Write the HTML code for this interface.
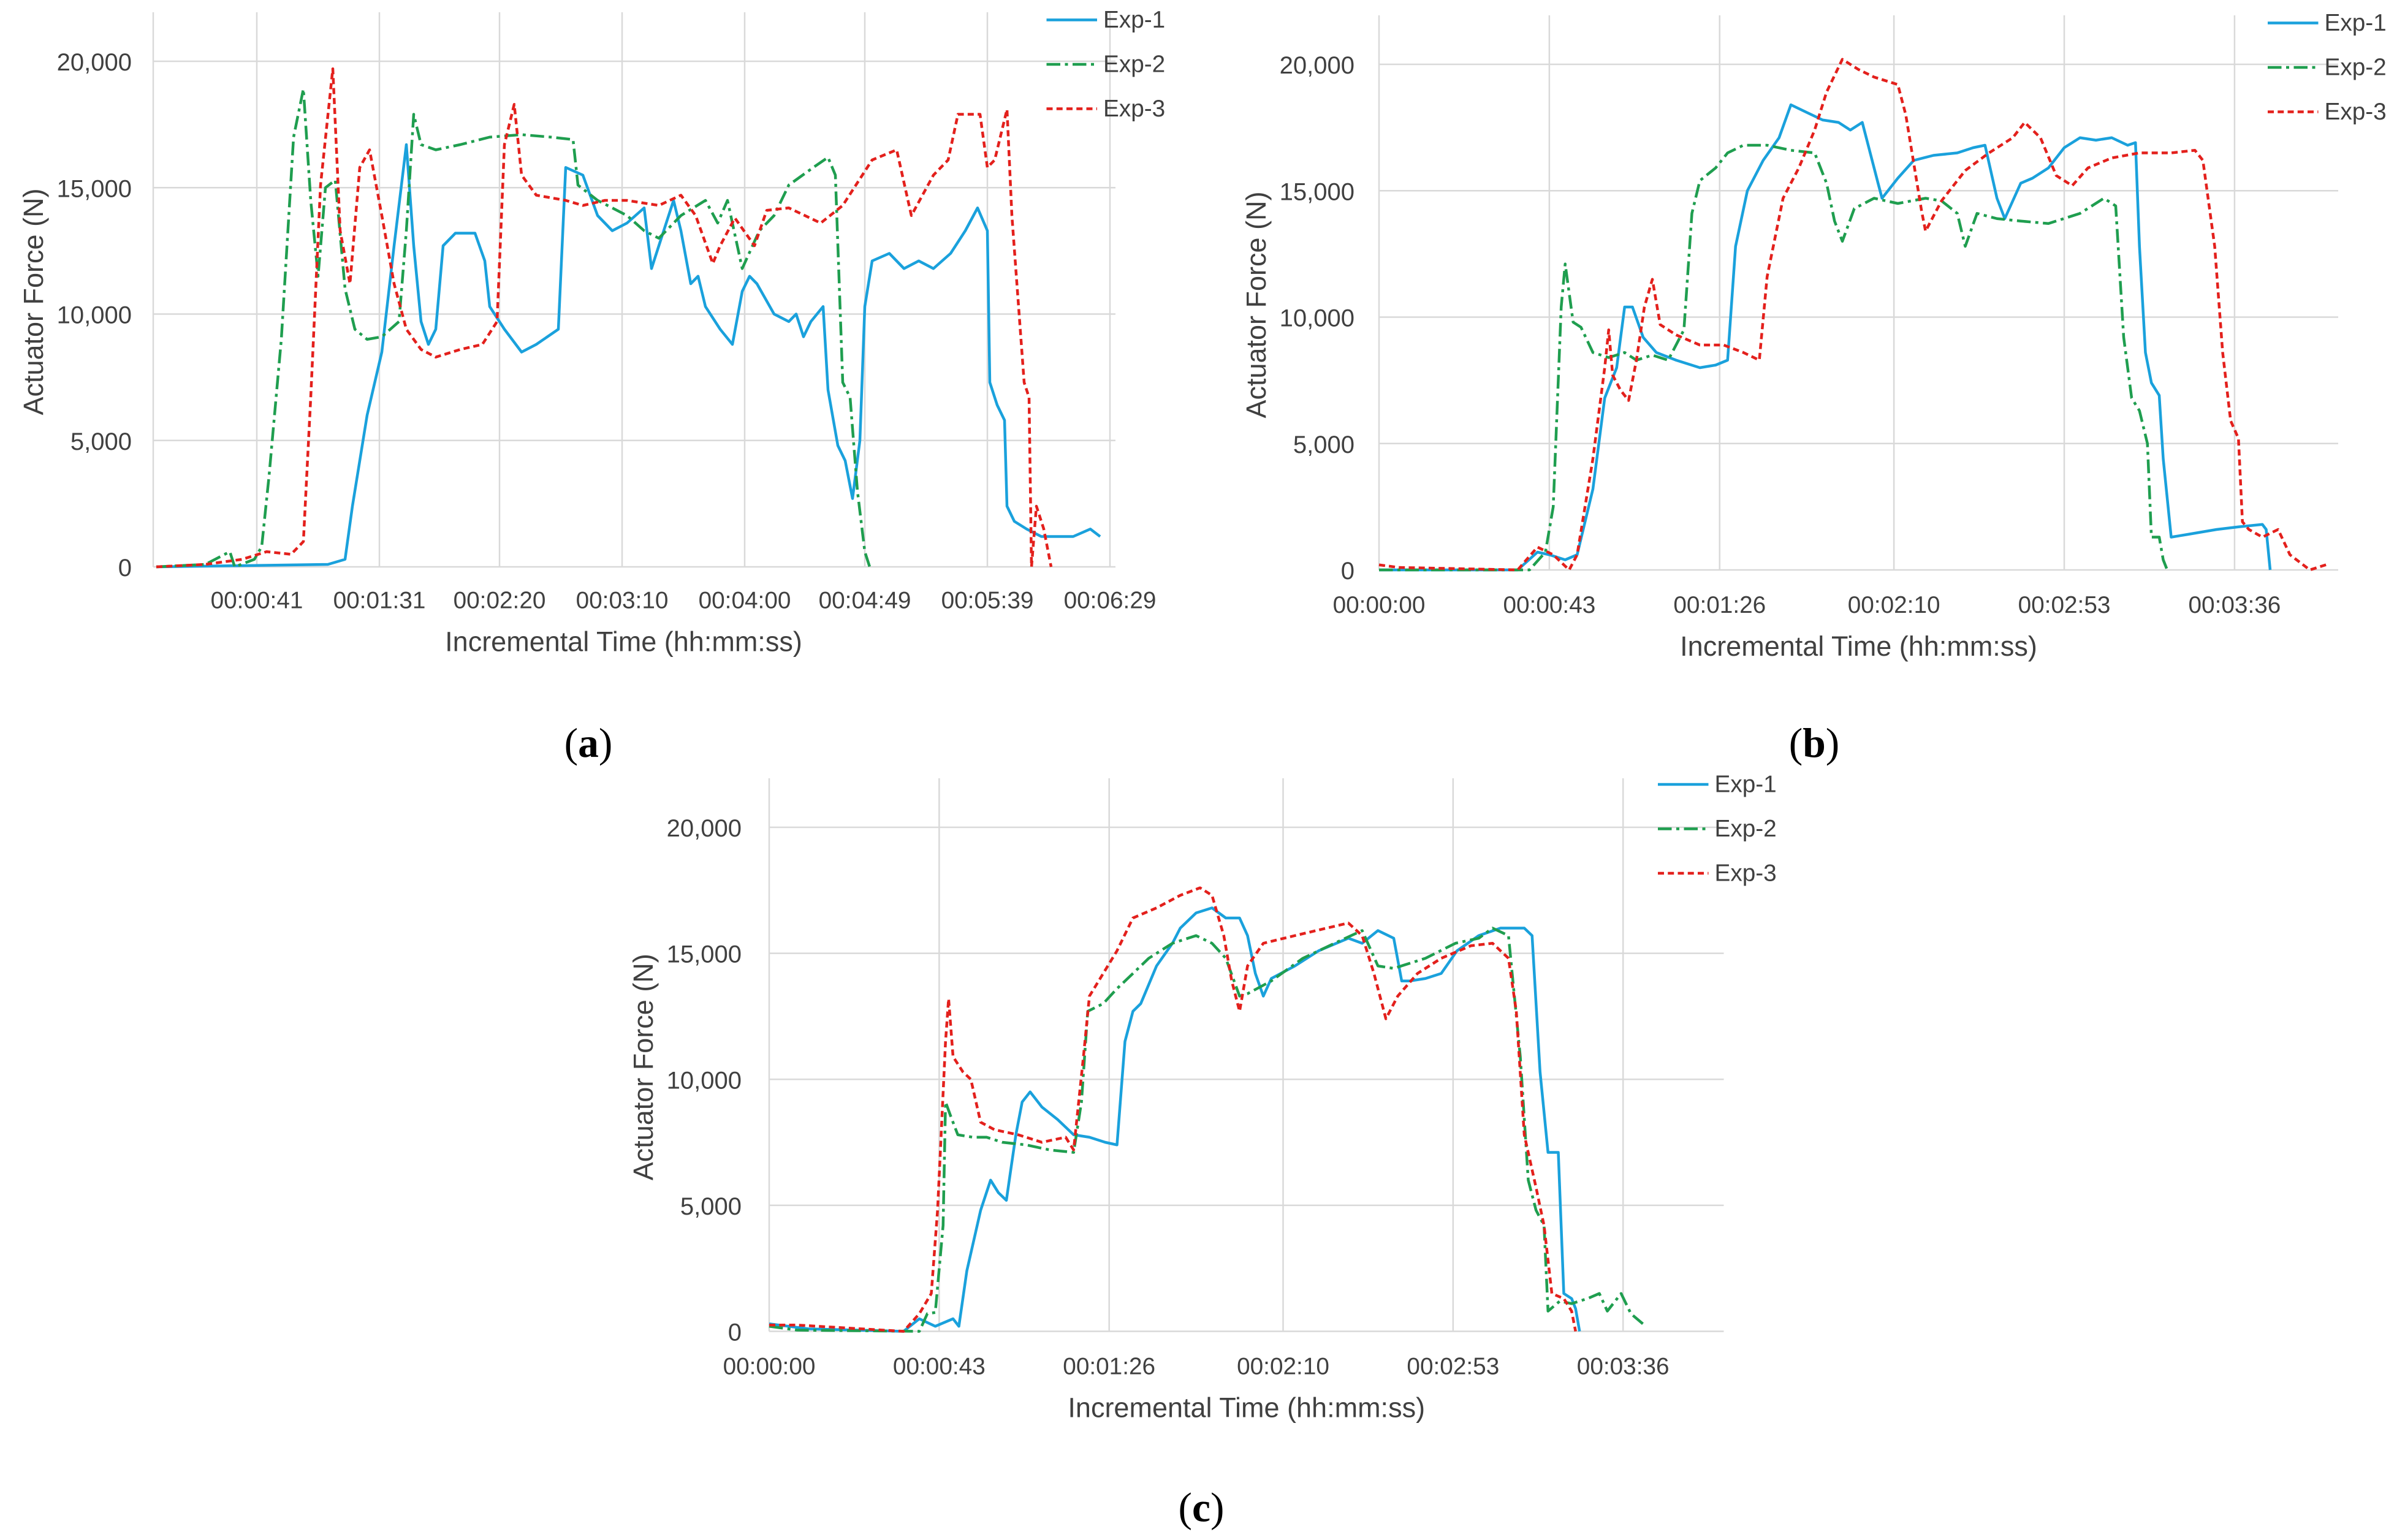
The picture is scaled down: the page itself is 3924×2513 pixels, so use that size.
<!DOCTYPE html>
<html>
<head>
<meta charset="utf-8">
<style>
html,body{margin:0;padding:0;background:#fff;}
svg{display:block;}
text{font-family:"Liberation Sans",sans-serif;fill:#404040;}
</style>
</head>
<body>
<svg id="fig" width="3924" height="2513" viewBox="0 0 1569.6 1005.2" xmlns="http://www.w3.org/2000/svg">
<rect x="0" y="0" width="1569.6" height="1005.2" fill="#fff"/>
</svg>
<script>
// ---- Data (time in seconds, force in N) ----
const yTicks = [0, 5000, 10000, 15000, 20000];
const yTickLabels = ["0", "5,000", "10,000", "15,000", "20,000"];
const seriesNames = ["Exp-1", "Exp-2", "Exp-3"];

const aTickSec = [41, 91, 140, 190, 240, 289, 339, 389];
const aTickLabels = ["00:00:41","00:01:31","00:02:20","00:03:10","00:04:00","00:04:49","00:05:39","00:06:29"];
const bcTickSec = [0, 43, 86, 130, 173, 216];
const bcTickLabels = ["00:00:00","00:00:43","00:01:26","00:02:10","00:02:53","00:03:36"];

const aExp1T = [0,70,77,80,86,92,97,102,105,108,111,114,117,122,130,134,136,142,149,155,164,167,174,180,186,192,199,202,205,211,214,218,221,224,230,235,239,242,245,252,258,261,264,267,272,274,278,281,284,287,289,292,299,305,311,317,324,330,335,339,340,343,346,347,350,355,361,374,381,385];
const aExp1F = [0,100,300,2400,6000,8500,12700,16700,12700,9700,8800,9400,12700,13200,13200,12100,10300,9400,8500,8800,9400,15800,15500,13900,13300,13600,14200,11800,12700,14500,13300,11200,11500,10300,9400,8800,10900,11500,11200,10000,9700,10000,9100,9700,10300,7000,4800,4200,2700,5000,10300,12100,12400,11800,12100,11800,12400,13300,14200,13300,7300,6400,5800,2400,1800,1500,1200,1200,1500,1200];
const aExp2T = [0,20,30,32,40,43,46,51,56,60,63,66,69,73,77,81,86,92,99,102,105,108,114,124,136,149,161,170,172,180,186,192,199,205,214,224,229,233,239,246,252,258,268,274,277,280,283,286,289,291];
const aExp2F = [0,100,600,0,300,800,3600,9000,17000,18900,14500,11500,15000,15300,11000,9400,9000,9100,9700,13300,17900,16700,16500,16700,17000,17100,17000,16900,15100,14500,14200,13900,13300,13000,13900,14500,13600,14500,11800,13300,13900,15100,15800,16200,15500,7300,6700,3000,600,0];
const aExp3T = [0,20,35,45,55,60,63,67,72,75,79,83,87,92,97,102,108,114,124,133,139,142,146,149,155,167,174,183,192,205,214,220,227,230,236,244,249,258,271,280,292,302,308,317,323,327,336,339,342,347,349,354,356,357,359,362,365];
const aExp3F = [0,100,300,600,500,1000,6700,15100,19700,13300,11200,15800,16500,13900,11200,9400,8600,8300,8600,8800,9700,16700,18300,15500,14700,14500,14300,14500,14500,14300,14700,13900,12000,12700,13800,12700,14100,14200,13600,14300,16100,16500,13900,15500,16100,17900,17900,15800,16100,18100,13900,7300,6700,0,2400,1500,0];

const bExp1T = [0,35,40,43,47,50,54,57,60,62,64,66.7,70,75,81,85,88,90,93,97,101,104,108,112,116,119,122,126,127,131,135,140,146,150,153,156,158,162,165,169,173,177,181,185,189,191,192,193.5,195,197,198,200,204,211.5,217,223,224,225];
const bExp1F = [0,0,700,600,400,600,3200,6800,8000,10400,10400,9200,8600,8300,8000,8100,8300,12800,15000,16200,17100,18400,18100,17800,17700,17400,17700,15300,14700,15500,16200,16400,16500,16700,16800,14700,13900,15300,15500,15900,16700,17100,17000,17100,16800,16900,12800,8600,7400,6900,4400,1300,1400,1600,1700,1800,1600,0];
const bExp2T = [0,38,42,44,46,47,49,51,54,58,62,65,69,73,77,79,81,85,88,92,98,104,110,113,115,117,120,125,131,138,142,146,148,151,156,162,169,177,183,186,188,190,192,194,195,197,198,199];
const bExp2F = [0,0,700,2500,10400,12100,9800,9600,8600,8400,8600,8300,8500,8300,9500,14100,15400,15900,16500,16800,16800,16600,16500,15300,13800,13000,14300,14700,14500,14700,14600,14100,12800,14100,13900,13800,13700,14100,14700,14400,9200,6800,6300,5000,1300,1300,400,0];
const bExp3T = [0,5,35,40,44,48,50,54,57,58,59,61,63,65,67,69,71,75,81,87,92,96,98,102,106,110,113,117,121,125,131,133,137,138,142,148,154,160,163,167,171,175,179,185,192,200,206,208,211,213,215,217,218,219.6,223,227,230,235,240];
const bExp3F = [200,100,0,900,600,0,600,4400,8000,9500,7700,7100,6700,8300,10400,11500,9700,9300,8900,8900,8600,8300,11600,14700,15900,17400,18900,20200,19800,19500,19200,18000,14200,13400,14600,15800,16500,17100,17700,17100,15600,15200,15900,16300,16500,16500,16600,16200,12800,8600,5900,5200,1900,1600,1300,1600,600,0,250];

const cExp1T = [0,10,34,38,42,46.5,48,50,53.5,56,58,60,61,62.4,64,66,69,73,77,81,85,88,90,92,94,98,102,104,108,112,115.5,119,121,123,125,127,133,139,146.5,150,154,158,160,162,166,170,174,179.5,185,191,193,195,197,199.6,201,203,204,205];
const cExp1F = [300,100,0,500,200,500,200,2400,4800,6000,5500,5200,6300,7800,9100,9500,8900,8400,7800,7700,7500,7400,11500,12700,13000,14500,15400,16000,16600,16800,16400,16400,15700,14200,13300,14000,14500,15100,15600,15400,15900,15600,13900,13900,14000,14200,15100,15700,16000,16000,15700,10300,7100,7100,1500,1300,900,0];
const cExp2T = [0,7,38,40,42,44,44.6,46,47.7,51.5,55,59,65,71,77,79,80.6,84.5,88,92,96,102,108,112,115.5,119,121,127,135,143,150,154,158,166,173.6,179.5,183,187,190,192,194,196,197,200,203,207,210,212,215.5,218,221];
const cExp2F = [200,50,0,700,750,4200,9100,8500,7800,7700,7700,7500,7400,7200,7100,9100,12700,13000,13600,14200,14800,15400,15700,15400,14800,13300,13400,13900,14800,15400,15900,14500,14400,14800,15400,15600,16000,15700,10900,6000,4800,4200,800,1200,1100,1300,1500,800,1500,700,300];
const cExp3T = [0,7,34,38,41,42.6,44.6,45.4,46.5,49,51,53.5,57,63,69,75,77,79.5,81,84.5,88,92,98,104,109,112,115,117,119,121,125,133,141,146.5,150,153,156,159,164,170,177.5,183,187,189,191,194,196,198,201,203,204];
const cExp3F = [250,250,0,700,1500,4800,11500,13200,10900,10300,10000,8300,8000,7800,7500,7700,7200,10900,13300,14200,15100,16400,16800,17300,17600,17300,15700,13900,12700,14500,15400,15700,16000,16200,15700,14200,12400,13300,14200,14800,15300,15400,14800,12700,7800,5700,4200,1500,1300,800,0];

// ---- Rendering ----
const NS = "http://www.w3.org/2000/svg";
const svg = document.getElementById("fig");
const colors = ["#1aa1dc", "#1f9e4f", "#e3201c"];
const dashes = [null, "9,3,2,3", "4,2.5"];

function mk(tag, attrs, parent) {
  const e = document.createElementNS(NS, tag);
  for (const k in attrs) e.setAttribute(k, attrs[k]);
  (parent || svg).appendChild(e);
  return e;
}

const panels = [
  {id:"a", left:100, right:728, top:8, x0:102, pxs:1.6, yZero:370, yTop:40,
   ticks:aTickSec, labels:aTickLabels, tickY:397, titleY:425, yTitleX:22, yLabX:86,
   legX:683, legY:13, capX:384, capY:494,
   series:[[aExp1T,aExp1F],[aExp2T,aExp2F],[aExp3T,aExp3F]]},
  {id:"b", left:900, right:1526, top:10, x0:900, pxs:2.585, yZero:372, yTop:42,
   ticks:bcTickSec, labels:bcTickLabels, tickY:400, titleY:428, yTitleX:820, yLabX:884,
   legX:1480, legY:15, capX:1184, capY:494,
   series:[[bExp1T,bExp1F],[bExp2T,bExp2F],[bExp3T,bExp3F]]},
  {id:"c", left:502, right:1125, top:508, x0:502, pxs:2.58, yZero:869, yTop:540,
   ticks:bcTickSec, labels:bcTickLabels, tickY:897, titleY:925, yTitleX:420, yLabX:484,
   legX:1082, legY:512, capX:784, capY:993,
   series:[[cExp1T,cExp1F],[cExp2T,cExp2F],[cExp3T,cExp3F]]}
];

panels.forEach(p => {
  const g = mk("g", {});
  
  
  const xS = t => p.x0 + t * p.pxs;
  const yS = f => p.yZero - f * (p.yZero - p.yTop) / 20000;

  // horizontal gridlines & y labels
  yTicks.forEach((v, i) => {
    const gl = mk("line", {x1:p.left, x2:p.right, y1:yS(v), y2:yS(v), stroke:"#d9d9d9", "stroke-width":1}, g);
    
    
    const tx = mk("text", {x:p.yLabX, y:yS(v)+6, "text-anchor":"end", "font-size":16}, g);
    tx.textContent = yTickLabels[i];
    
    
  });
  // left axis line
  const la = mk("line", {x1:p.left, x2:p.left, y1:p.top, y2:p.yZero, stroke:"#d9d9d9", "stroke-width":1}, g);
  
  
  // vertical gridlines & x labels
  p.ticks.forEach((t, i) => {
    const x = xS(t);
    if (t > 0) {
      const vl = mk("line", {x1:x, x2:x, y1:p.top, y2:p.yZero, stroke:"#d9d9d9", "stroke-width":1}, g);
      
      
    }
    const tx = mk("text", {x:x, y:p.tickY, "text-anchor":"middle", "font-size":15.5}, g);
    tx.textContent = p.labels[i];
    
    
  });
  // x axis title
  const xt = mk("text", {x:(p.left+p.right)/2 + (p.id==="a"?-7:0), y:p.titleY, "text-anchor":"middle", "font-size":18}, g);
  xt.textContent = "Incremental Time (hh:mm:ss)";
  
  
  // y axis title
  const cy = (p.top + p.yZero) / 2 + 8;
  const yt = mk("text", {x:p.yTitleX, y:cy, "text-anchor":"middle", "font-size":18, transform:`rotate(-90 ${p.yTitleX} ${cy}) translate(0 6)`}, g);
  yt.textContent = "Actuator Force (N)";
  
  

  // series
  p.series.forEach((s, si) => {
    const pts = s[0].map((t, k) => xS(t).toFixed(1) + "," + yS(s[1][k]).toFixed(1)).join(" ");
    const attrs = {points:pts, fill:"none", stroke:colors[si], "stroke-width":1.8, "stroke-linejoin":"round"};
    if (dashes[si]) attrs["stroke-dasharray"] = dashes[si];
    const pl = mk("polyline", attrs, g);
    
    
  });

  // legend
  seriesNames.forEach((n, si) => {
    const ly = p.legY + si * 29;
    const la2 = {x1:p.legX, x2:p.legX+33, y1:ly, y2:ly, stroke:colors[si], "stroke-width":1.8};
    if (dashes[si]) la2["stroke-dasharray"] = dashes[si];
    const ll = mk("line", la2, g);
    
    
    const lt = mk("text", {x:p.legX+37, y:ly+5, "font-size":15.5}, g);
    lt.textContent = n;
    
    
  });

  // caption
  const cap = mk("text", {x:p.capX, y:p.capY, "text-anchor":"middle", "font-size":27, style:"font-family:'Liberation Serif',serif;fill:#000"}, g);
  cap.innerHTML = "(<tspan font-weight='bold'>" + p.id + "</tspan>)";
  
  
});
</script>
</body>
</html>
